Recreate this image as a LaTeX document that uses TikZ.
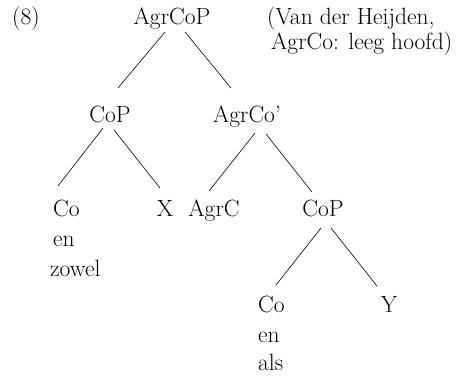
\documentclass[tikz,border=0pt]{standalone}
\usetikzlibrary{calc}
\begin{document}
\begin{tikzpicture}[x=1pt, y=-1pt,
  lbl/.style={inner sep=0pt, anchor=base, font=\fontsize{23.5}{28}\selectfont},
  lblw/.style={lbl, anchor=base west},
  branch/.style={line width=0.6pt}]
\useasboundingbox (0,0) rectangle (457,378);

% example number and remark
\node[lblw] (num) at (12,24) {(8)};
\node[lblw] (rem1) at (267,24) {(Van der Heijden,};
\node[lblw] (rem2) at (271,49) {AgrCo: leeg hoofd)};

% tree labels
\node[lbl] (top) at (172,24) {AgrCoP};
\node[lbl] (copA) at (110,122) {CoP};
\node[lbl] (agrbar) at (247,122) {AgrCo'};
\node[lblw] (coA) at (53,216) {Co};
\node[lblw] (enA) at (53,246) {en};
\node[lblw] (zowel) at (50,276) {zowel};
\node[lbl] (x) at (165,216) {X};
\node[lbl] (agrc) at (214,216) {AgrC};
\node[lbl] (copB) at (323,216) {CoP};
\node[lblw] (coB) at (258,312) {Co};
\node[lblw] (enB) at (258,342) {en};
\node[lblw] (als) at (258,370) {als};
\node[lbl] (y) at (389,312) {Y};

% branches
\draw[branch] ($(top.base)+(-7,8)$) -- ($(copA.base)+(8,-34)$);
\draw[branch] ($(top.base)+(13,8)$) -- ($(agrbar.base)+(-16,-34)$);
\draw[branch] ($(copA.base)+(-7,6)$) -- ($(coA.base west)+(5,-30)$);
\draw[branch] ($(copA.base)+(4,8)$) -- ($(x.base)+(-5,-28)$);
\draw[branch] ($(agrbar.base)+(8,11)$) -- ($(agrc.base)+(-5,-25)$);
\draw[branch] ($(agrbar.base)+(19,12)$) -- ($(copB.base)+(-11,-24)$);
\draw[branch] ($(copB.base)+(-2,12)$) -- ($(coB.base west)+(18,-27)$);
\draw[branch] ($(copB.base)+(8,12)$) -- ($(y.base)+(-12,-26)$);
\end{tikzpicture}
\end{document}
